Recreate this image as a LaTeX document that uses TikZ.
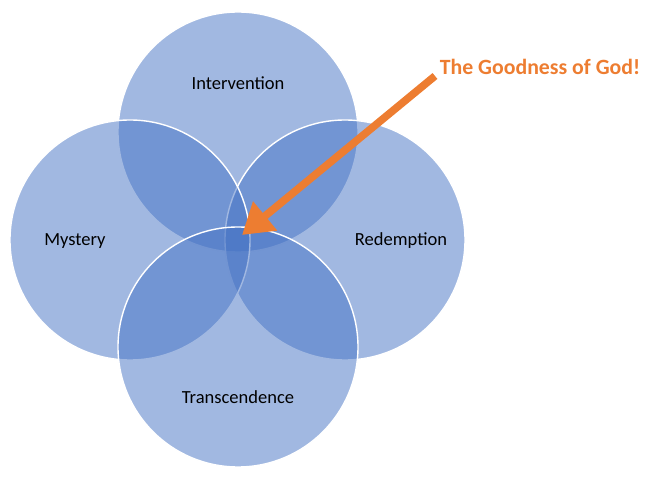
\documentclass[tikz,border=0pt]{standalone}
\usepackage{fontspec}
\setmainfont{Carlito}
\usetikzlibrary{arrows.meta}
\definecolor{venn}{RGB}{68,114,196}
\definecolor{accent}{RGB}{237,125,49}
\tikzset{
  ring/.style={circle,minimum size=240*0.03cm,inner sep=0pt,fill=venn,fill opacity=0.5,draw=white,line width=1.2pt},
  lbl/.style={font=\fontsize{15.8}{19}\selectfont,text=black}
}

\begin{document}
\begin{tikzpicture}[x=0.03cm,y=-0.03cm]
            \useasboundingbox (0,0) rectangle (658,487);
            \node (top) at (238,132) [ring] {};
            \node (right) at (345,240) [ring] {};
            \node (left) at (130,240) [ring] {};
            \node (bottom) at (238,347) [ring] {};
            \node (t) at (238,83) [lbl] {Intervention};
            \node (r) at (401,241) [lbl] {Redemption};
            \node (l) at (75,241) [lbl] {Mystery};
            \node (b) at (238,397) [lbl] {Transcendence};
            \node (god) at (540,67) [font=\bfseries\fontsize{18.6}{22}\selectfont,text=accent] {The Goodness of God!};
            \coordinate (tail) at (435,76);
            \coordinate (center) at (242,235);
            \draw[accent,line width=6.5pt,-{Triangle[length=30*0.03cm,width=36*0.03cm]}] (tail) -- (center);
        \end{tikzpicture}
\end{document}
